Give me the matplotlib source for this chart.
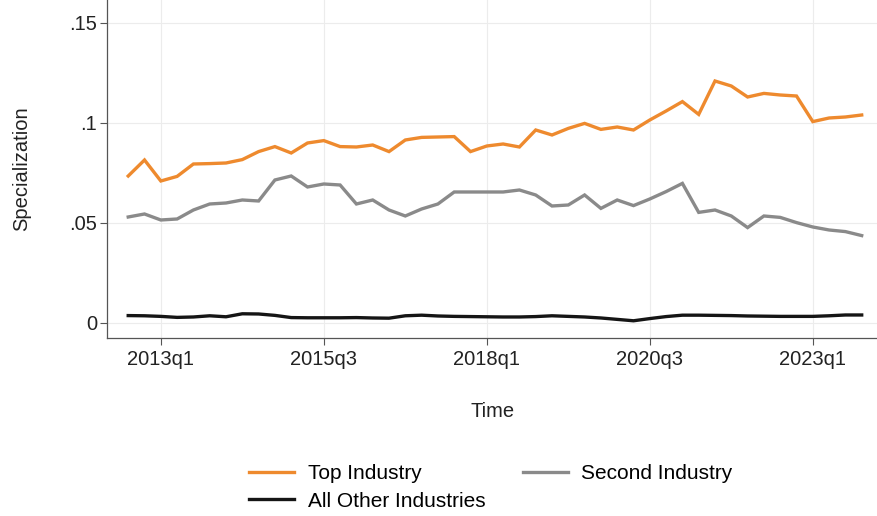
import matplotlib
matplotlib.use("Agg")
import matplotlib.pyplot as plt
import numpy as np

plt.rcParams['font.family'] = ['Liberation Sans', 'DejaVu Sans']

# Stata quarterly index (quarters since 1960q1): 2012q3 .. 2023q4
start_q = 210
top_industry = [
    0.0735, 0.0815, 0.0710, 0.0733, 0.0795, 0.0797, 0.0800, 0.0817, 0.0857, 0.0882,
    0.0850, 0.0900, 0.0912, 0.0882, 0.0880, 0.0890, 0.0857, 0.0915, 0.0928, 0.0930,
    0.0932, 0.0857, 0.0885, 0.0895, 0.0880, 0.0965, 0.0940, 0.0973, 0.0998, 0.0968,
    0.0980, 0.0965, 0.1015, 0.1060, 0.1107, 0.1043, 0.1210, 0.1185, 0.1130, 0.1148,
    0.1140, 0.1135, 0.1007, 0.1025, 0.1030, 0.1040,
]
second_industry = [
    0.0530, 0.0545, 0.0515, 0.0520, 0.0565, 0.0595, 0.0600, 0.0615, 0.0610, 0.0715,
    0.0735, 0.0680, 0.0695, 0.0690, 0.0595, 0.0615, 0.0565, 0.0535, 0.0570, 0.0595,
    0.0655, 0.0655, 0.0655, 0.0655, 0.0665, 0.0640, 0.0585, 0.0590, 0.0640, 0.0573,
    0.0615, 0.0587, 0.0620, 0.0657, 0.0698, 0.0553, 0.0565, 0.0535, 0.0477, 0.0535,
    0.0528, 0.0502, 0.0480, 0.0465, 0.0457, 0.0437,
]
all_other = [
    0.0037, 0.0036, 0.0033, 0.0028, 0.0030, 0.0036, 0.0031, 0.0046, 0.0045, 0.0038,
    0.0027, 0.0026, 0.0026, 0.0026, 0.0027, 0.0025, 0.0024, 0.0036, 0.0039, 0.0035,
    0.0033, 0.0032, 0.0031, 0.0030, 0.0030, 0.0032, 0.0036, 0.0033, 0.0030, 0.0025,
    0.0018, 0.0011, 0.0022, 0.0032, 0.0039, 0.0039, 0.0038, 0.0037, 0.0035, 0.0034,
    0.0033, 0.0033, 0.0033, 0.0036, 0.0040, 0.0040,
]
x_tick_q = [212, 222, 232, 242, 252]
x_tick_labels = ["2013q1", "2015q3", "2018q1", "2020q3", "2023q1"]
y_ticks = [0, 0.05, 0.1, 0.15]
y_tick_labels = ["0", ".05", ".1", ".15"]

quarters = np.arange(start_q, start_q + len(top_industry))

fig = plt.figure(figsize=(8.78, 5.16), dpi=100)
ax = fig.add_axes([0.1219, 0.345, 0.8781, 0.655])

h_top, = ax.plot(quarters, top_industry, color="#EE8A2E", lw=2.4,
                 label="Top Industry", solid_joinstyle="miter")
h_sec, = ax.plot(quarters, second_industry, color="#8A8A8A", lw=2.4,
                 label="Second Industry", solid_joinstyle="miter")
h_oth, = ax.plot(quarters, all_other, color="#151515", lw=2.4,
                 label="All Other Industries")

ax.set_xlim(208.7, 256.0)
ax.set_ylim(-0.0075, 0.1615)

ax.set_xticks(x_tick_q)
ax.set_xticklabels(x_tick_labels, fontsize=14.5, color="#222222")
ax.set_yticks(y_ticks)
ax.set_yticklabels(y_tick_labels, fontsize=14.5, color="#222222")
ax.tick_params(axis="both", direction="out", length=5, width=0.8, color="#555555")
ax.tick_params(axis="y", pad=2)
ax.tick_params(axis="x", pad=4)

ax.grid(True, color="#ECECEC", lw=0.8)
ax.set_axisbelow(True)
for side in ("top", "right"):
    ax.spines[side].set_visible(False)
for side in ("left", "bottom"):
    ax.spines[side].set_color("#555555")
    ax.spines[side].set_linewidth(0.9)

ax.set_xlabel("Time", fontsize=14.5, color="#222222")
ax.xaxis.set_label_coords(0.5, -0.19)
ax.set_ylabel("Specialization", fontsize=14.5, color="#222222")
ax.yaxis.set_label_coords(-0.098, 0.5)

# legend filled row by row: Top / Second on the first row, All Other below
fig.legend(handles=[h_top, h_oth, h_sec],
           labels=["Top Industry", "All Other Industries", "Second Industry"],
           loc="center", bbox_to_anchor=(0.559, 0.055), ncol=2, frameon=False,
           fontsize=15, handlelength=2.15, columnspacing=1.8, labelspacing=0.4,
           handletextpad=0.67)

fig.savefig("out.png", dpi=100, facecolor="white")
